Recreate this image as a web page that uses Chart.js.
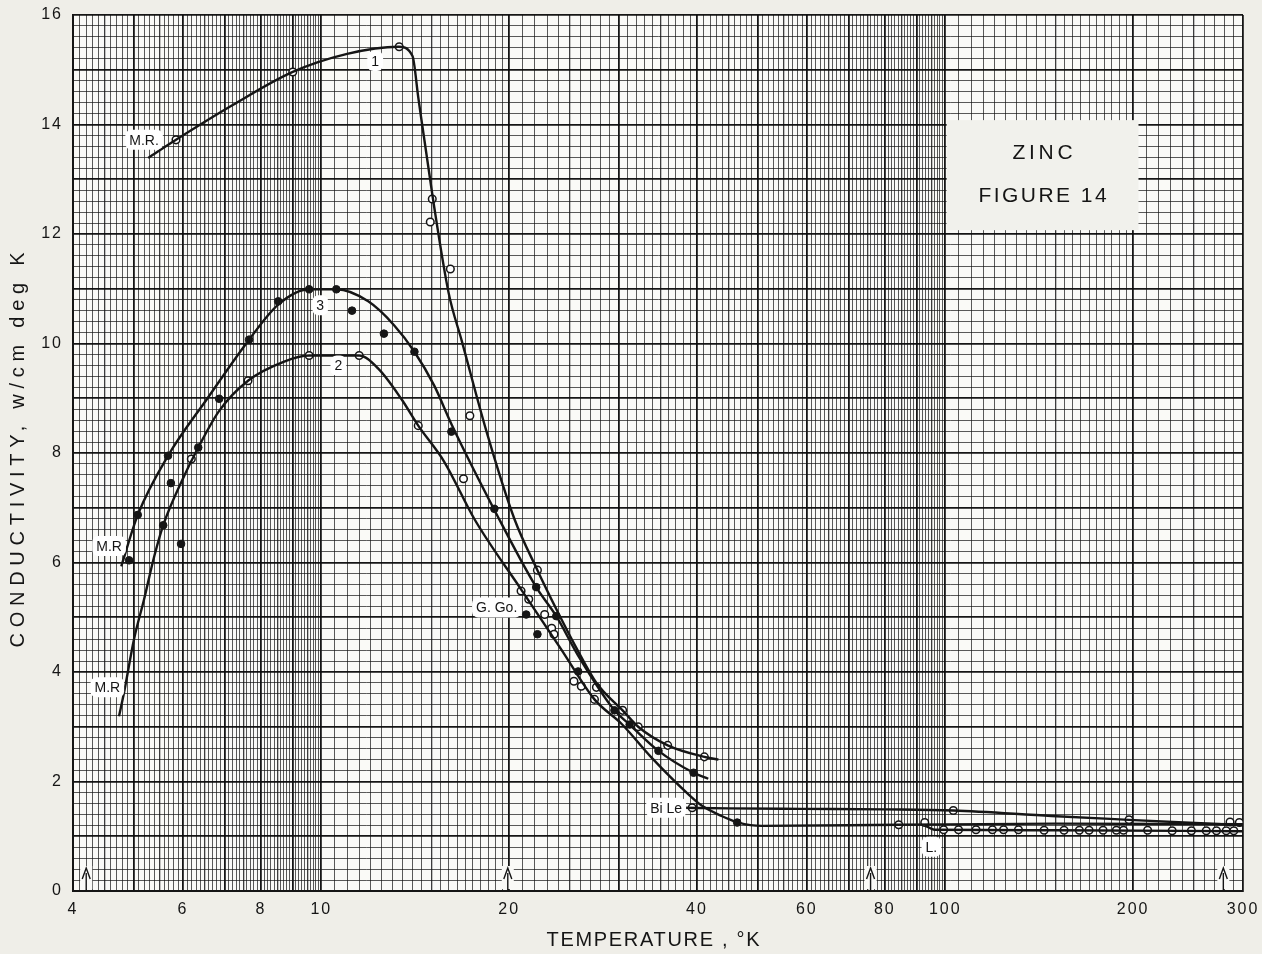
<!DOCTYPE html>
<html>
<head>
<meta charset="utf-8">
<title>Zinc - Figure 14</title>
<script src="https://cdn.jsdelivr.net/npm/chart.js@4.4.0/dist/chart.umd.min.js"></script>
<style>
  html, body { margin: 0; padding: 0; background: #efeee8; }
  #wrap { width: 1262px; height: 954px; }
</style>
</head>
<body>
<div id="wrap"><canvas id="zincChart"></canvas></div>
<script>
// temperature (deg K) / conductivity (w/cm deg K)
var xTickLabels = [4, 6, 8, 10, 20, 40, 60, 80, 100, 200, 300];
var yTickLabels = [0, 2, 4, 6, 8, 10, 12, 14, 16];

// curve 1 (M.R.)
var c1T = [5.28, 5.85, 7.2, 9.0, 11.0, 13.3, 14.0, 14.3, 15.1, 16.0, 16.8, 18.4, 20.4, 22.2, 23.8, 25.6, 27.6, 30.4, 32.2, 35.9, 41.1, 43.3];
var c1K = [13.39, 13.72, 14.35, 14.96, 15.29, 15.42, 15.25, 14.5, 12.64, 10.92, 10.04, 8.39, 6.79, 5.86, 5.15, 4.45, 3.8, 3.30, 3.0, 2.66, 2.45, 2.40];

// curve 2 (M.R., G. Go., continues to the high temperature end)
var c2T = [4.74, 4.83, 5.01, 5.2, 5.4, 5.58, 6.0, 6.35, 6.86, 7.63, 8.72, 9.56, 11.5, 12.34, 13.43, 14.3, 15.74, 17.6, 20.9, 24.25, 27.4, 30.3, 33.8, 38.8, 40.7, 43.8, 46.6, 50.8, 84, 150, 300];
var c2K = [3.19, 3.63, 4.60, 5.33, 6.12, 6.68, 7.53, 8.10, 8.77, 9.32, 9.67, 9.78, 9.78, 9.54, 8.99, 8.50, 7.84, 6.79, 5.51, 4.41, 3.50, 3.05, 2.44, 1.76, 1.56, 1.37, 1.25, 1.19, 1.21, 1.23, 1.22];

// curve 3 (M.R.)
var c3T = [4.78, 5.08, 5.68, 6.58, 7.66, 8.53, 9.56, 10.57, 11.89, 13.09, 14.1, 15.17, 16.16, 18.94, 22.1, 23.8, 25.8, 29.5, 31.2, 34.7, 39.5, 41.7];
var c3K = [5.93, 6.87, 7.95, 9.01, 10.07, 10.71, 10.99, 10.99, 10.77, 10.33, 9.85, 9.23, 8.53, 6.96, 5.55, 5.02, 4.3, 3.30, 3.04, 2.56, 2.16, 2.05];

// Bi Le and L. lines
var biT = [37.8, 45, 58.8, 80, 103, 148, 197, 300];
var biK = [1.52, 1.51, 1.50, 1.49, 1.47, 1.37, 1.30, 1.20];
var lT = [92.7, 96, 150, 300];
var lK = [1.20, 1.12, 1.11, 1.09];

// open circles
var openT = [5.85, 9.0, 13.33, 15.06, 14.95, 16.1, 17.3, 16.9, 22.2, 27.6, 30.4, 32.2, 35.9, 41.1,
  6.19, 7.63, 9.56, 11.5, 14.3,
  20.9, 21.5, 22.8, 23.4, 23.6, 25.4, 26.1, 27.4,
  39.3, 103, 197, 84.2, 92.7, 286, 296,
  99.4, 105, 112, 119, 124, 131, 144, 155, 164, 170, 179, 188, 193, 211, 231, 248, 262, 272, 282, 290];
var openK = [13.72, 14.96, 15.42, 12.64, 12.22, 11.36, 8.68, 7.53, 5.86, 3.72, 3.30, 3.0, 2.66, 2.45,
  7.89, 9.32, 9.78, 9.78, 8.5,
  5.48, 5.33, 5.05, 4.80, 4.69, 3.83, 3.74, 3.50,
  1.52, 1.47, 1.30, 1.21, 1.25, 1.26, 1.25,
  1.12, 1.12, 1.12, 1.12, 1.12, 1.12, 1.11, 1.11, 1.11, 1.11, 1.11, 1.11, 1.11, 1.11, 1.10, 1.10, 1.10, 1.10, 1.10, 1.10];

// filled dots
var fillT = [4.92, 5.08, 5.58, 5.74, 5.68, 5.96, 6.35, 6.86, 7.66, 8.53, 9.56, 10.57, 11.2, 12.6, 14.1, 16.16, 18.94, 21.3, 22.1, 22.2, 23.8, 25.8, 29.5, 31.2, 34.7, 39.5, 46.4];
var fillK = [6.04, 6.87, 6.68, 7.45, 7.95, 6.34, 8.10, 8.99, 10.07, 10.77, 10.99, 10.99, 10.6, 10.18, 9.85, 8.39, 6.98, 5.05, 5.55, 4.69, 5.02, 4.01, 3.30, 3.04, 2.56, 2.16, 1.25];

// curve labels on the sheet
var noteText = ['M.R.', '1', '3', '2', 'M.R', 'M.R', 'G. Go.', 'Bi Le', 'L.'];
var noteT = [5.2, 12.2, 9.96, 10.65, 4.57, 4.54, 19.1, 35.7, 95];
var noteK = [13.72, 15.16, 10.7, 9.6, 6.3, 3.72, 5.18, 1.52, 0.81];

// fixed point arrows along the bottom
var arrowT = [4.2, 19.9, 75.9, 279];

var INK = '#151515';
var PAPER = '#fafaf7';
var FONT = '"Liberation Sans", Arial, sans-serif';

function pts(t, k) {
  return t.map(function (v, i) { return { x: v, y: k[i] }; });
}

function range(a, b, step) {
  var out = [];
  for (var v = a; v <= b + 1e-9; v += step) out.push(Math.round(v * 1000) / 1000);
  return out;
}

// log graph paper rulings
var xGrid = [].concat(range(4, 10, 0.1), range(10.5, 20, 0.5), range(21, 100, 1), range(105, 200, 5), range(210, 300, 10));
var yGrid = range(0, 16, 0.2);

function xLevel(v) {
  var d = v < 10 ? 1 : v < 100 ? 10 : 100;
  var r = v / d;
  if (Math.abs(r - Math.round(r)) < 1e-6) return 2;
  if (Math.abs(r * 2 - Math.round(r * 2)) < 1e-6) return 1;
  return 0;
}
function yLevel(v) {
  return Math.abs(v - Math.round(v)) < 1e-6 ? 2 : 0;
}
var gridColor = ['rgba(20,20,20,0.7)', 'rgba(20,20,20,0.82)', 'rgba(10,10,10,0.95)'];
var gridWidth = [1, 1.3, 1.8];

function spacedText(c, s, x, y, width) {
  c.letterSpacing = '0px';
  var w = c.measureText(s).width;
  var sp = (width - w) / (s.length - 1);
  c.letterSpacing = sp + 'px';
  c.fillText(s, x + sp / 2, y);
  c.letterSpacing = '0px';
}

var paperPlugin = {
  id: 'paper',
  beforeDraw: function (chart) {
    var c = chart.ctx, a = chart.chartArea;
    c.save();
    c.fillStyle = '#efeee8';
    c.fillRect(0, 0, chart.width, chart.height);
    c.fillStyle = PAPER;
    c.fillRect(a.left, a.top, a.right - a.left, a.bottom - a.top);
    c.restore();
    c.letterSpacing = '2px';
  },
  beforeDatasetsDraw: function (chart) {
    chart.ctx.letterSpacing = '0px';
  },
  afterDraw: function (chart) {
    var c = chart.ctx, xs = chart.scales.x, ys = chart.scales.y;
    c.save();
    c.fillStyle = INK;
    c.textAlign = 'center';
    c.textBaseline = 'middle';

    // fixed point arrows
    c.strokeStyle = INK;
    c.lineWidth = 1.4;
    arrowT.forEach(function (t) {
      var px = xs.getPixelForValue(t), py = ys.getPixelForValue(0);
      c.fillStyle = PAPER;
      c.fillRect(px - 6, py - 25, 12, 23);
      c.beginPath();
      c.moveTo(px, py);
      c.lineTo(px, py - 18);
      c.moveTo(px - 4, py - 12);
      c.lineTo(px, py - 23);
      c.lineTo(px + 4, py - 12);
      c.stroke();
    });

    // curve labels
    c.font = '14px ' + FONT;
    noteText.forEach(function (s, i) {
      var px = xs.getPixelForValue(noteT[i]), py = ys.getPixelForValue(noteK[i]);
      var w = c.measureText(s).width + 8;
      c.fillStyle = '#ffffff';
      c.beginPath();
      c.roundRect(px - w / 2, py - 10, w, 20, 6);
      c.fill();
      c.fillStyle = INK;
      c.fillText(s, px, py + 1);
    });

    // title box
    var bx0 = xs.getPixelForValue(100.5), bx1 = xs.getPixelForValue(204);
    var by0 = ys.getPixelForValue(14.08), by1 = ys.getPixelForValue(12.07);
    c.fillStyle = '#f1f1ec';
    c.fillRect(bx0, by0, bx1 - bx0, by1 - by0);
    c.fillStyle = INK;
    c.font = '21px ' + FONT;
    var cx = (bx0 + bx1) / 2;
    spacedText(c, 'ZINC', cx, ys.getPixelForValue(13.48), 60);
    spacedText(c, 'FIGURE 14', cx, ys.getPixelForValue(12.69), 128);

    // axis titles
    c.font = '20px ' + FONT;
    spacedText(c, 'TEMPERATURE , \u00b0K', (chart.chartArea.left + chart.chartArea.right) / 2 - 5, 940, 213);
    c.translate(18, 450);
    c.rotate(-Math.PI / 2);
    spacedText(c, 'CONDUCTIVITY, w/cm deg K', 0, 0, 395);
    c.restore();
  }
};

var curveStyle = {
  showLine: true,
  pointRadius: 0,
  borderColor: INK,
  borderWidth: 2.4,
  cubicInterpolationMode: 'monotone',
  fill: false
};

var ctx = document.getElementById('zincChart');
var zincChart = new Chart(ctx, {
  type: 'scatter',
  data: {
    datasets: [
      Object.assign({ label: 'curve 1', data: pts(c1T, c1K) }, curveStyle),
      Object.assign({ label: 'curve 2', data: pts(c2T, c2K) }, curveStyle),
      Object.assign({ label: 'curve 3', data: pts(c3T, c3K) }, curveStyle),
      Object.assign({ label: 'Bi Le', data: pts(biT, biK) }, curveStyle),
      Object.assign({ label: 'L.', data: pts(lT, lK) }, curveStyle),
      {
        label: 'open', data: pts(openT, openK),
        pointRadius: 3.8, pointBackgroundColor: '#ffffff', pointBorderColor: INK, pointBorderWidth: 1.5
      },
      {
        label: 'filled', data: pts(fillT, fillK),
        pointRadius: 3.8, pointBackgroundColor: INK, pointBorderColor: INK, pointBorderWidth: 1
      }
    ]
  },
  options: {
    responsive: true,
    maintainAspectRatio: false,
    animation: false,
    layout: { padding: { top: 15, right: 19, bottom: 0, left: 0 } },
    plugins: {
      legend: { display: false },
      tooltip: { enabled: false }
    },
    scales: {
      x: {
        type: 'logarithmic',
        min: 4,
        max: 300,
        afterBuildTicks: function (axis) {
          axis.ticks = xGrid.map(function (v) { return { value: v }; });
        },
        afterFit: function (scale) {
          scale.height = 63;
          scale.paddingLeft = 0;
          scale.paddingRight = 0;
        },
        ticks: {
          autoSkip: false,
          maxRotation: 0,
          padding: 9,
          color: INK,
          font: { family: FONT, size: 16 },
          callback: function (v) {
            return xTickLabels.indexOf(v) >= 0 ? String(v) : '';
          }
        },
        grid: {
          drawTicks: false,
          color: function (c) { return gridColor[xLevel(c.tick.value)]; },
          lineWidth: function (c) { return gridWidth[xLevel(c.tick.value)]; }
        },
        border: { display: true, color: INK, width: 2 }
      },
      y: {
        min: 0,
        max: 16,
        afterBuildTicks: function (axis) {
          axis.ticks = yGrid.map(function (v) { return { value: v }; });
        },
        afterFit: function (scale) {
          scale.width = 73;
          scale.paddingTop = 0;
          scale.paddingBottom = 0;
        },
        ticks: {
          autoSkip: false,
          padding: 10,
          color: INK,
          font: { family: FONT, size: 16 },
          callback: function (v) {
            var r = Math.round(v);
            return Math.abs(v - r) < 1e-6 && yTickLabels.indexOf(r) >= 0 ? String(r) : '';
          }
        },
        grid: {
          drawTicks: false,
          color: function (c) { return gridColor[yLevel(c.tick.value)]; },
          lineWidth: function (c) { return gridWidth[yLevel(c.tick.value)]; }
        },
        border: { display: true, color: INK, width: 2 }
      }
    }
  },
  plugins: [paperPlugin]
});
</script>
</body>
</html>
